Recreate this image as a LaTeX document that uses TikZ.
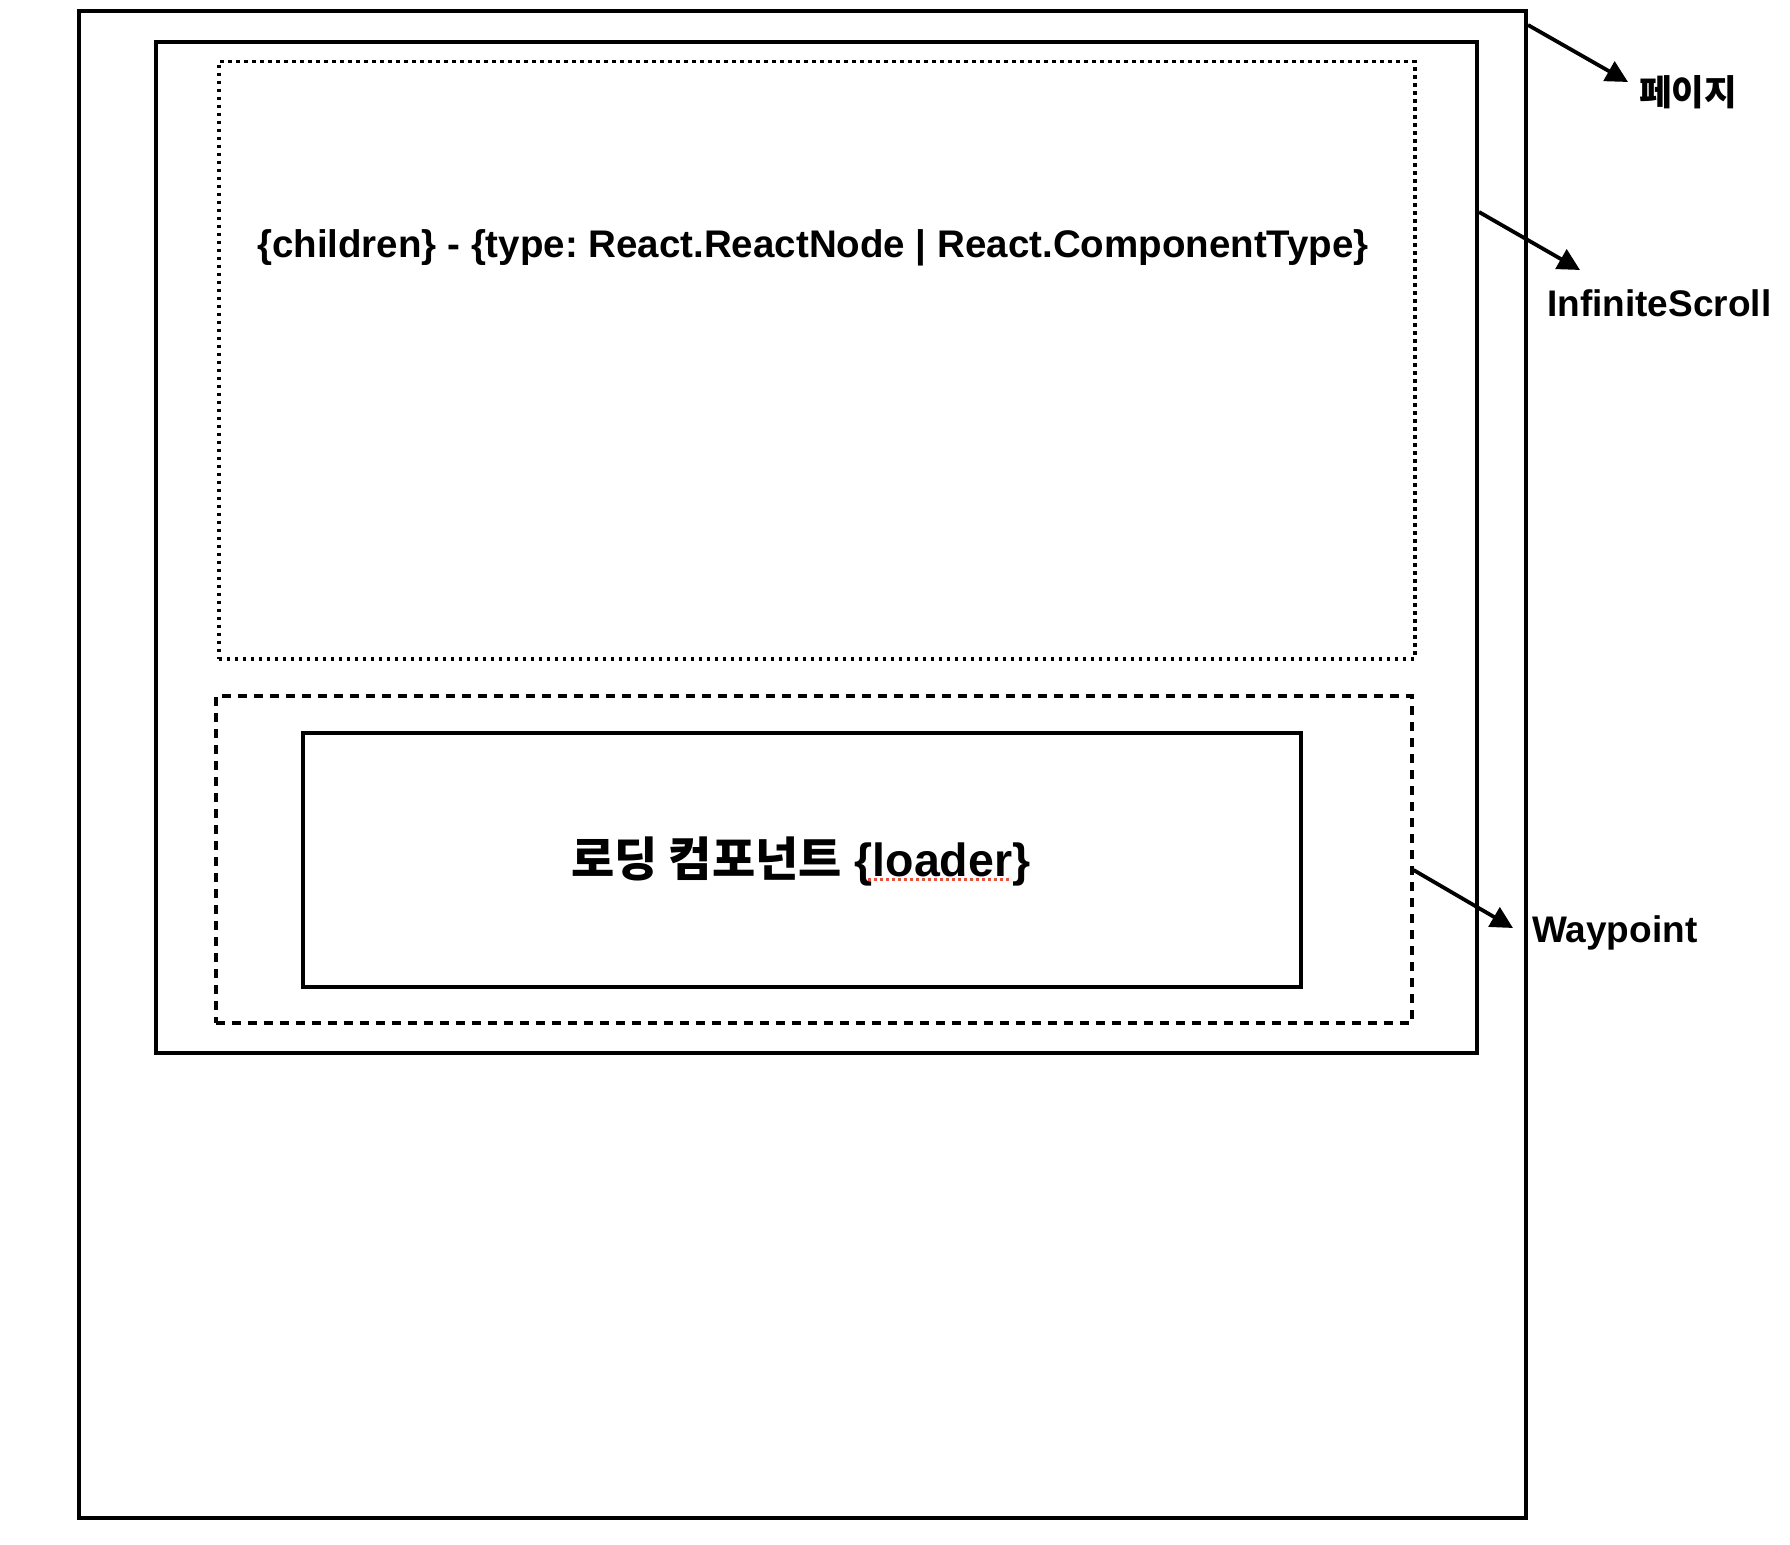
\documentclass[tikz,border=0pt]{standalone}
\usepackage{fontspec}
\setmainfont{Liberation Sans}
\newfontfamily\kr{Noto Sans CJK KR}
\usetikzlibrary{arrows.meta,calc}
\definecolor{spellred}{RGB}{232,80,62}
\frenchspacing
\begin{document}
\begin{tikzpicture}[x=1pt,y=-1pt,
  box/.style={draw, line width=4pt, inner sep=0pt, anchor=north west},
  dotbox/.style={draw, line width=3.5pt, dash pattern=on 3.5pt off 4.5pt, inner sep=0pt, anchor=north west},
  dashbox/.style={draw, line width=3.5pt, dash pattern=on 9pt off 7pt, inner sep=0pt, anchor=north west},
  arr/.style={line width=3.8pt, -{Triangle[length=22pt,width=22pt]}},
  lab/.style={font=\fontsize{37}{44}\selectfont\bfseries, anchor=base west, inner sep=0pt}]
\useasboundingbox (0,0) rectangle (1790,1544);
% boxes
\node[box, minimum width=1447pt, minimum height=1507pt] (page) at (77,9) {};
\node[box, minimum width=1321pt, minimum height=1011pt] (scroll) at (154,40) {};
\node[dotbox, minimum width=1196pt, minimum height=597pt] (children) at (217,60) {};
\node[dashbox, minimum width=1196pt, minimum height=327pt] (waypoint) at (214,694) {};
\node[box, minimum width=998pt, minimum height=254pt] (loader) at (301,731) {};
% texts
\node[anchor=base, inner sep=0pt, font=\fontsize{38.5}{46}\selectfont\bfseries] (childrentext) at (813,257)
  {\{children\} - \{type: React.ReactNode | React.ComponentType\}};
\node[anchor=base, inner sep=0pt, font=\fontsize{46.5}{56}\selectfont\bfseries] (loadertext) at (801,876)
  {{\kr\fontsize{47}{56}\selectfont\bfseries 로딩 컴포넌트}\ \{loader\}};
\draw[spellred, line width=3pt, dash pattern=on 3pt off 3pt] (868,879) -- (1010,879);
% labels
\node[lab, font=\kr\fontsize{35.5}{42}\selectfont\bfseries] (pagelabel) at (1639,106) {페이지};
\node[lab] (scrolllabel) at (1547,316) {InfiniteScroll};
\node[lab] (waypointlabel) at (1532,942) {Waypoint};
% arrows
\coordinate (pagetip) at (1628,82);
\coordinate (scrolltip) at (1580,270);
\coordinate (waypointtip) at (1513,928);
\draw[arr] ($(page.north east)+(0,16)$) -- (pagetip);
\draw[arr] ($(scroll.north east)+(0,172)$) -- (scrolltip);
\draw[arr] ($(waypoint.north east)+(0,176)$) -- (waypointtip);
\end{tikzpicture}
\end{document}
